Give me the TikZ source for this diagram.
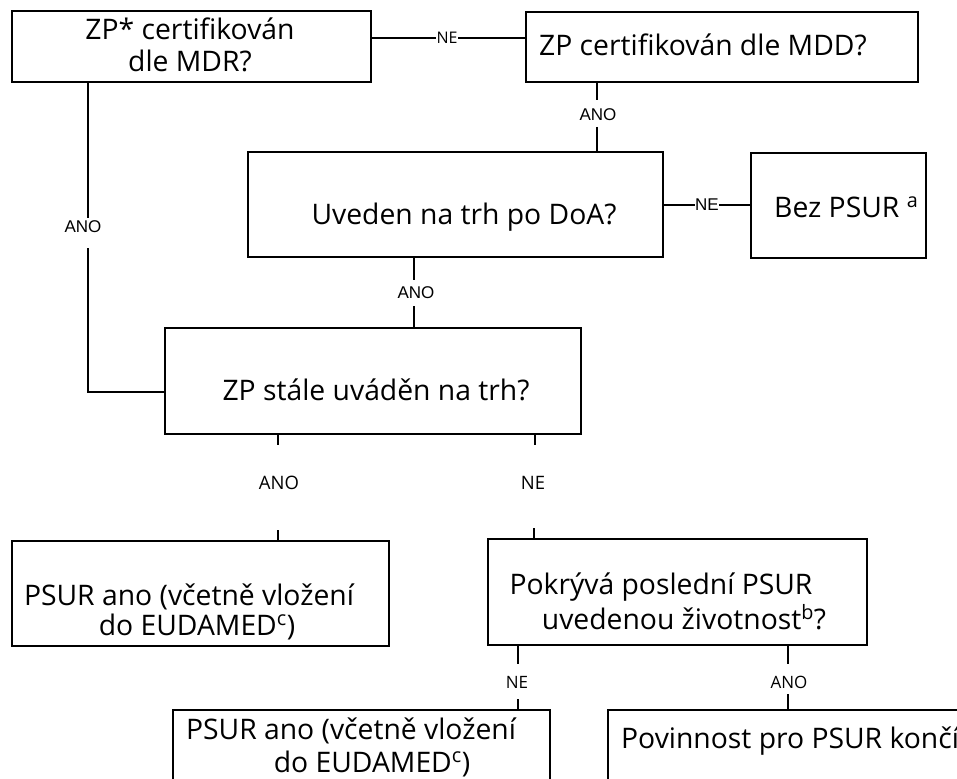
\documentclass[tikz,border=0pt]{standalone}
\usepackage{fontspec}
\setmainfont{Open Sans}
\newfontfamily\arialf{Liberation Sans}
\begin{document}
\begin{tikzpicture}[x=1pt,y=-1pt,
  box/.style={draw,line width=1.5pt,rectangle,inner sep=0pt},
  main/.style={inner sep=0pt,font=\fontsize{28.3}{33}\selectfont},
  lbl/.style={inner sep=1pt,font=\fontsize{18.5}{21}\selectfont},
  albl/.style={inner sep=1pt,font=\arialf\fontsize{17}{20}\selectfont},
  conn/.style={line width=1.8pt}]
\useasboundingbox (0,0) rectangle (957,778);
\clip (0,0) rectangle (957,778);
% boxes
\node[box,minimum width=359pt,minimum height=71pt] (b1) at (191.5,46.5) {};
\node[box,minimum width=392pt,minimum height=70pt] (b2) at (722,47) {};
\node[box,minimum width=415pt,minimum height=105pt] (b3) at (455.5,204.5) {};
\node[box,minimum width=175pt,minimum height=105pt] (b4) at (838.5,205.5) {};
\node[box,minimum width=416pt,minimum height=106pt] (b5) at (373,381) {};
\node[box,minimum width=377pt,minimum height=105pt] (b6) at (200.5,593.5) {};
\node[box,minimum width=379pt,minimum height=106pt] (b7) at (677.5,592) {};
\node[box,minimum width=377pt,minimum height=105pt] (b8) at (361.5,762.5) {};
\node[box,minimum width=377pt,minimum height=105pt] (b9) at (796.5,762.5) {};
% texts
\node[main,anchor=base] (t1a) at (190,40) {ZP* certifikován};
\node[main,anchor=base] (t1b) at (190,72) {dle MDR?};
\node[main,anchor=base west] (t2) at (539,56) {ZP certifikován dle MDD?};
\node[main,anchor=base] (t3) at (464,224) {Uveden na trh po DoA?};
\node[main,anchor=base west] (t4) at (774,217) {Bez PSUR \textsuperscript{a}};
\node[main,anchor=base] (t5) at (376,400) {ZP stále uváděn na trh?};
\node[main,anchor=base] (t6a) at (189,605) {PSUR ano (včetně vložení};
\node[main,anchor=base] (t6b) at (197,635) {do EUDAMED\textsuperscript{c})};
\node[main,anchor=base] (t7a) at (661,594) {Pokrývá poslední PSUR};
\node[main,anchor=base] (t7b) at (684,629) {uvedenou životnost\textsuperscript{b}?};
\node[main,anchor=base] (t8a) at (351,739) {PSUR ano (včetně vložení};
\node[main,anchor=base] (t8b) at (372,772) {do EUDAMED\textsuperscript{c})};
\node[main,anchor=base west] (t9) at (621,748) {Povinnost pro PSUR končí};
% b1 -> b2 (NE)
\coordinate (c12) at (447,38);
\draw[conn] (b1.east |- c12) -- (b2.west |- c12);
\node[lbl,fill=white,inner sep=0.5pt,font=\fontsize{16}{19}\selectfont] (n12) at (c12) {NE};
% b2 -> b3 (ANO)
\node[albl] (n23) at (598,115) {ANO};
\coordinate (c23a) at (597,100);
\coordinate (c23b) at (597,127);
\draw[conn] (b2.south -| c23a) -- (c23a);
\draw[conn] (c23b) -- (b3.north -| c23b);
% b3 -> b4 (NE)
\coordinate (c34) at (707,205);
\draw[conn] (b3.east |- c34) -- (b4.west |- c34);
\node[albl,fill=white,inner sep=0.5pt] (n34) at (c34) {NE};
% b3 -> b5 (ANO)
\node[albl] (n35) at (416,293) {ANO};
\coordinate (c35a) at (414,280);
\coordinate (c35b) at (414,306);
\draw[conn] (b3.south -| c35a) -- (c35a);
\draw[conn] (c35b) -- (b5.north -| c35b);
% b1 -> b5 (ANO, left)
\node[albl] (n15) at (83,227) {ANO};
\coordinate (c15a) at (88,218);
\coordinate (c15b) at (88,248);
\coordinate (c15c) at (88,392);
\draw[conn] (b1.south -| c15a) -- (c15a);
\draw[conn] (c15b) -- (c15c) -- (b5.west |- c15c);
% b5 -> b6 (ANO)
\node[lbl] (n56) at (279,483) {ANO};
\coordinate (c56a) at (278,445);
\coordinate (c56b) at (278,530);
\draw[conn] (b5.south -| c56a) -- (c56a);
\draw[conn] (c56b) -- (b6.north -| c56b);
% b5 -> b7 (NE)
\node[lbl] (n57) at (533,483) {NE};
\coordinate (c57a) at (535,445);
\coordinate (c57b) at (534,528);
\draw[conn] (b5.south -| c57a) -- (c57a);
\draw[conn] (c57b) -- (b7.north -| c57b);
% b7 -> b8 (NE)
\node[lbl,font=\fontsize{17}{20}\selectfont] (n78) at (517,682) {NE};
\coordinate (c78a) at (518,664);
\coordinate (c78b) at (518,699);
\draw[conn] (b7.south -| c78a) -- (c78a);
\draw[conn] (c78b) -- (b8.north -| c78b);
% b7 -> b9 (ANO)
\node[lbl,font=\fontsize{17}{20}\selectfont] (n79) at (789,682) {ANO};
\coordinate (c79a) at (788,664);
\coordinate (c79b) at (788,694);
\draw[conn] (b7.south -| c79a) -- (c79a);
\draw[conn] (c79b) -- (b9.north -| c79b);
\end{tikzpicture}
\end{document}
